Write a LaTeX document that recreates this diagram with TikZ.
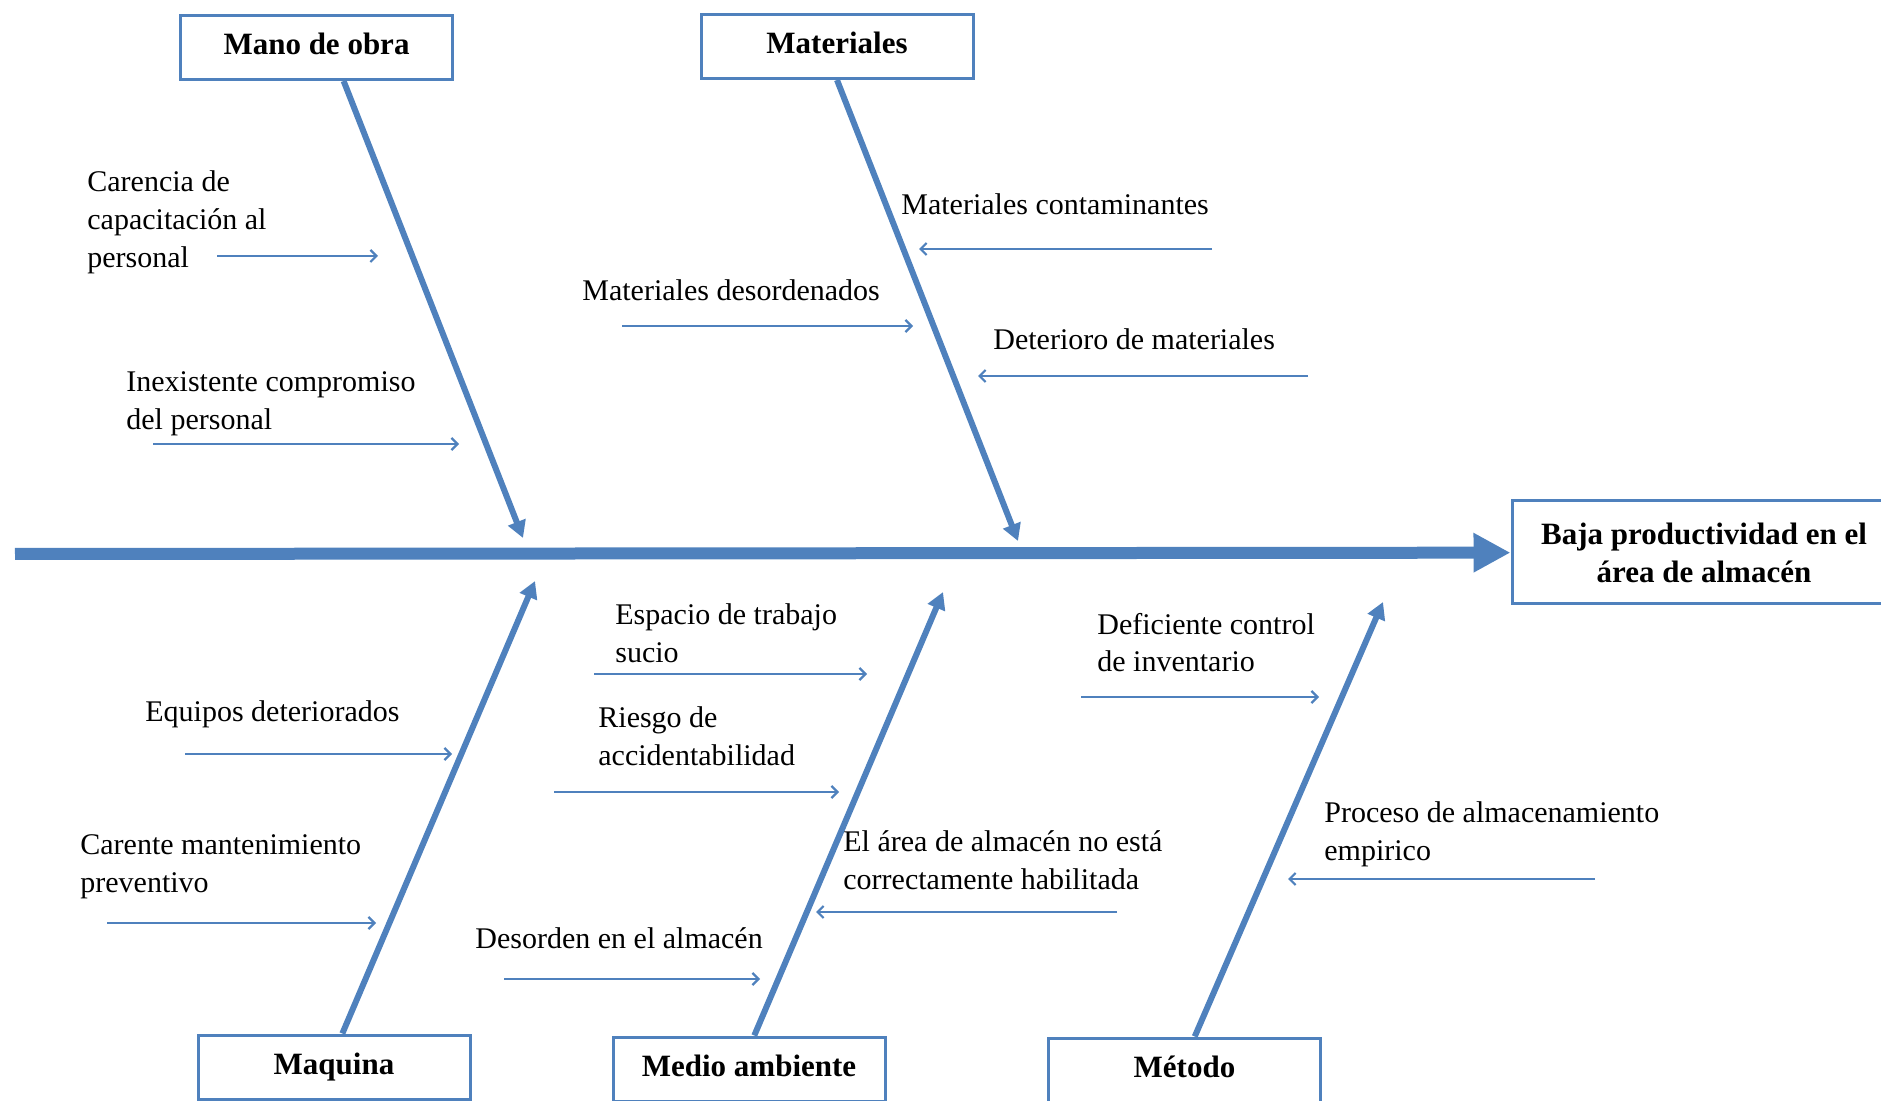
\documentclass[tikz,border=0pt]{standalone}
\usepackage{fontspec}
\setmainfont{Liberation Serif}
\usetikzlibrary{arrows.meta,positioning}
\definecolor{fishblue}{RGB}{79,129,189}
\tikzset{
  box/.style      = {draw=fishblue, line width=1.5pt, rectangle, inner sep=0pt,
                     font=\fontsize{15.5}{19}\selectfont\bfseries},
  category/.style = {box, minimum width=136pt, minimum height=32pt,
                     text height=11pt, text depth=4pt},
  effect/.style   = {box, minimum width=192pt, minimum height=51.5pt, align=center},
  cause/.style    = {anchor=base west, inner sep=0pt, align=left,
                     font=\fontsize{15}{19}\selectfont},
  spine/.style    = {draw=fishblue, line width=6pt, -{Triangle[length=18.5pt,width=18.5pt]}},
  bone/.style     = {draw=fishblue, line width=3pt, -{Triangle[length=8.5pt,width=9pt]}},
  sub/.style      = {draw=fishblue, line width=1.1pt, -{Straight Barb[length=3pt,width=6pt]}}
}

\begin{document}
\begin{tikzpicture}[x=0.5pt, y=-0.5pt]
\useasboundingbox (0,0) rectangle (1881,1101);

% effect and main spine
\node[effect] (eff) at (1704,552.5) {Baja productividad en el\\área de almacén};
\coordinate (tail) at (15,554);
\draw[spine] (tail) -- (eff);

% the categories
\node[category] (mo) at (316.5,47.5) {Mano de obra};
\node[category] (mt) at (837,46.5)   {Materiales};
\node[category] (mq) at (334,1067)   {Maquina};
\node[category] (ma) at (749,1069)   {Medio ambiente};
\node[category] (me) at (1184.5,1070) {Método};

% where the bones meet the spine
\coordinate (mo-t) at (523,538);
\coordinate (mt-t) at (1018,541);
\coordinate (mq-t) at (535,581);
\coordinate (ma-t) at (943,592);
\coordinate (me-t) at (1383,602);

\draw[bone] (mo.309) -- (mo-t);
\draw[bone] (mt.south) -- (mt-t);
\draw[bone] (mq.76) -- (mq-t);
\draw[bone] (ma.81) -- (ma-t);
\draw[bone] (me.73) -- (me-t);

% the causes (placed at the baseline of their last line)
\node[cause] (carencia)      at (87,268)   {Carencia de\\capacitación al\\personal};
\node[cause] (inexistente)   at (126,430)  {Inexistente compromiso\\del personal};
\node[cause] (contaminantes) at (901,215)  {Materiales contaminantes};
\node[cause] (desordenados)  at (582,301)  {Materiales desordenados};
\node[cause] (deterioro)     at (993,350)  {Deterioro de materiales};
\node[cause] (equipos)       at (145,721)  {Equipos deteriorados};
\node[cause] (carente)       at (80,892)   {Carente mantenimiento\\preventivo};
\node[cause] (espacio)       at (615,662)  {Espacio de trabajo\\sucio};
\node[cause] (riesgo)        at (598,765)  {Riesgo de\\accidentabilidad};
\node[cause] (desorden)      at (475,948)  {Desorden en el almacén};
\node[cause] (area)          at (843,889)  {El área de almacén no está\\correctamente habilitada};
\node[cause] (deficiente)    at (1097,672) {Deficiente control\\de inventario};
\node[cause] (proceso)       at (1324,860) {Proceso de almacenamiento\\empirico};

% small arrows under each cause
\foreach \n/\xa/\xb/\y in {carencia/217/378/256, inexistente/153/459/444,
    contaminantes/1212/919/249, desordenados/622/913/326, deterioro/1308/978/376,
    equipos/185/452/754, carente/107/376/923, espacio/594/867/674,
    riesgo/554/839/792, desorden/504/760/979, area/1117/816/912,
    deficiente/1081/1319/697, proceso/1595/1288/879}
{
  \coordinate (\n-a) at (\xa,\y);
  \coordinate (\n-b) at (\xb,\y);
  \draw[sub] (\n-a) -- (\n-b);
}
\end{tikzpicture}
\end{document}
